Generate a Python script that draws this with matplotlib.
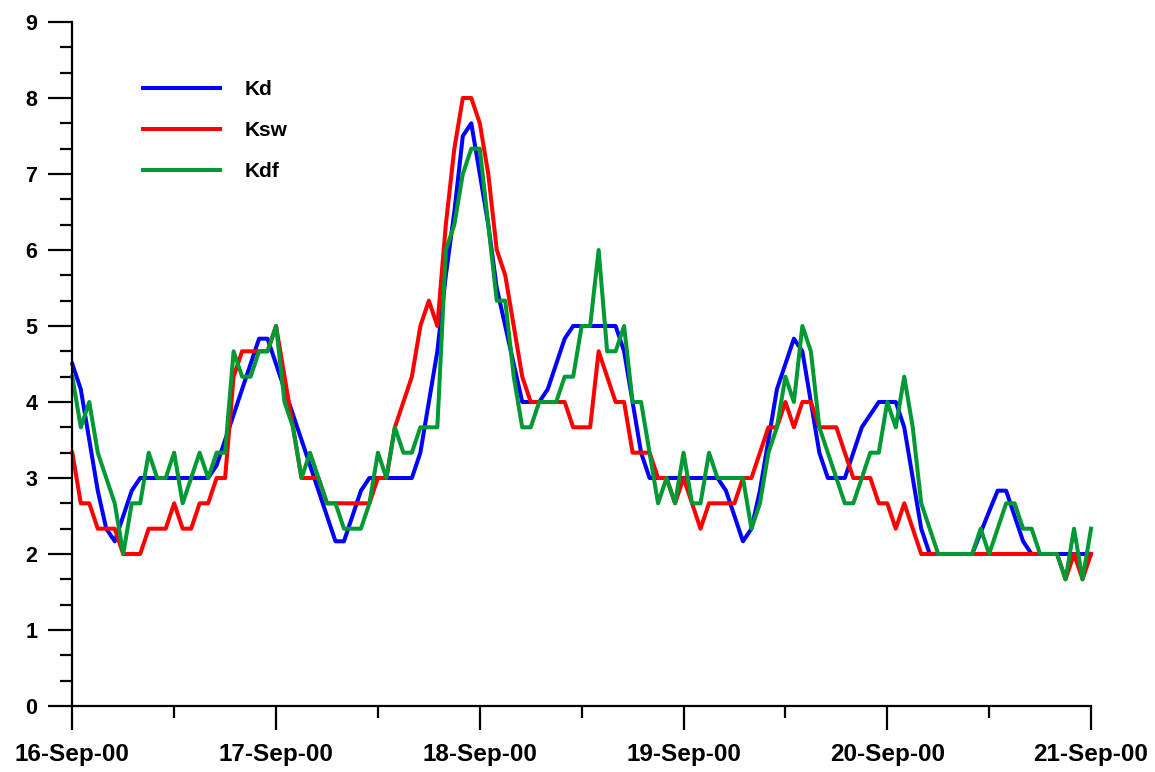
import numpy as np
import pandas as pd
import matplotlib
matplotlib.use("Agg")
import matplotlib.pyplot as plt
import matplotlib.dates as mdates

# hourly values, 16-Sep-00 00h .. 21-Sep-00 00h
kd = [4.5, 4.167, 3.5, 2.833, 2.333, 2.167, 2.5, 2.833, 3, 3,
      3, 3, 3, 3, 3, 3, 3, 3.167, 3.5, 3.833,
      4.167, 4.5, 4.833, 4.833, 4.5, 4.167, 3.833, 3.5, 3.167, 2.833,
      2.5, 2.167, 2.167, 2.5, 2.833, 3, 3, 3, 3, 3,
      3, 3.333, 4, 4.667, 5.667, 6.5, 7.5, 7.667, 7, 6.333,
      5.5, 5, 4.5, 4, 4, 4, 4.167, 4.5, 4.833, 5,
      5, 5, 5, 5, 5, 4.667, 4, 3.333, 3, 3,
      3, 3, 3, 3, 3, 3, 3, 2.833, 2.5, 2.167,
      2.333, 2.833, 3.5, 4.167, 4.5, 4.833, 4.667, 4, 3.333, 3,
      3, 3, 3.333, 3.667, 3.833, 4, 4, 4, 3.667, 3,
      2.333, 2, 2, 2, 2, 2, 2, 2.28, 2.56, 2.833,
      2.833, 2.5, 2.167, 2, 2, 2, 2, 2, 2, 2,
      2]
ksw = [3.333, 2.667, 2.667, 2.333, 2.333, 2.333, 2, 2, 2, 2.333,
       2.333, 2.333, 2.667, 2.333, 2.333, 2.667, 2.667, 3, 3, 4.333,
       4.667, 4.667, 4.667, 4.667, 5, 4.333, 3.667, 3, 3, 3,
       2.667, 2.667, 2.667, 2.667, 2.667, 2.667, 3, 3, 3.667, 4,
       4.333, 5, 5.333, 5, 6.333, 7.333, 8, 8, 7.667, 7,
       6, 5.667, 5, 4.333, 4, 4, 4, 4, 4, 3.667,
       3.667, 3.667, 4.667, 4.333, 4, 4, 3.333, 3.333, 3.333, 3,
       3, 2.667, 3, 2.667, 2.333, 2.667, 2.667, 2.667, 2.667, 3,
       3, 3.333, 3.667, 3.667, 4, 3.667, 4, 4, 3.667, 3.667,
       3.667, 3.333, 3, 3, 3, 2.667, 2.667, 2.333, 2.667, 2.333,
       2, 2, 2, 2, 2, 2, 2, 2, 2, 2,
       2, 2, 2, 2, 2, 2, 2, 1.667, 2, 1.667,
       2]
kdf = [4.333, 3.667, 4, 3.333, 3, 2.667, 2, 2.667, 2.667, 3.333,
       3, 3, 3.333, 2.667, 3, 3.333, 3, 3.333, 3.333, 4.667,
       4.333, 4.333, 4.667, 4.667, 5, 4, 3.667, 3, 3.333, 3,
       2.667, 2.667, 2.333, 2.333, 2.333, 2.667, 3.333, 3, 3.667, 3.333,
       3.333, 3.667, 3.667, 3.667, 6, 6.333, 7, 7.333, 7.333, 6.333,
       5.333, 5.333, 4.333, 3.667, 3.667, 4, 4, 4, 4.333, 4.333,
       5, 5, 6, 4.667, 4.667, 5, 4, 4, 3.333, 2.667,
       3, 2.667, 3.333, 2.667, 2.667, 3.333, 3, 3, 3, 3,
       2.333, 2.667, 3.333, 3.667, 4.333, 4, 5, 4.667, 3.667, 3.333,
       3, 2.667, 2.667, 3, 3.333, 3.333, 4, 3.667, 4.333, 3.667,
       2.667, 2.333, 2, 2, 2, 2, 2, 2.333, 2, 2.333,
       2.667, 2.667, 2.333, 2.333, 2, 2, 2, 1.667, 2.333, 1.667,
       2.333]

times = pd.date_range("2000-09-16 00:00", periods=len(kd), freq="h")

plt.rcParams['font.family'] = ['Liberation Sans', 'DejaVu Sans']
plt.rcParams['font.weight'] = 'bold'

fig = plt.figure(figsize=(11.55, 7.72), dpi=100)
ax = fig.add_axes([0.0626, 0.0855, 0.882, 0.886])

ax.plot(times, kd, color='#0000FF', lw=2.9, label='Kd', clip_on=False)
ax.plot(times, ksw, color='#FF0000', lw=2.9, label='Ksw', clip_on=False)
ax.plot(times, kdf, color='#009933', lw=2.9, label='Kdf', clip_on=False)

ax.set_xlim(pd.Timestamp("2000-09-16"), pd.Timestamp("2000-09-21"))
ax.set_ylim(0, 9)

ax.xaxis.set_major_locator(mdates.DayLocator())
ax.xaxis.set_minor_locator(mdates.HourLocator(byhour=[12]))
ax.xaxis.set_major_formatter(mdates.DateFormatter('%d-%b-%y'))
ax.set_yticks(range(0, 10))
ax.set_yticks(np.arange(0, 9.01, 1/3), minor=True)

for s in ['top', 'right']:
    ax.spines[s].set_visible(False)
for s in ['left', 'bottom']:
    ax.spines[s].set_linewidth(1.6)

ax.tick_params(axis='both', which='major', direction='out', length=17, width=1.6)
ax.tick_params(axis='both', which='minor', direction='out', length=8.5, width=1.6)
ax.tick_params(axis='x', which='major', pad=10, labelsize=17.5)
ax.tick_params(axis='y', which='major', pad=8, labelsize=15.5)
for lab in ax.get_xticklabels() + ax.get_yticklabels():
    lab.set_fontweight('bold')

leg = ax.legend(loc='upper left', bbox_to_anchor=(0.069, 0.915), frameon=False,
                fontsize=15, handlelength=3.7, handletextpad=1.2,
                labelspacing=1.05, borderpad=0, borderaxespad=0)
for t in leg.get_texts():
    t.set_fontweight('bold')

fig.savefig('out.png', dpi=100)
